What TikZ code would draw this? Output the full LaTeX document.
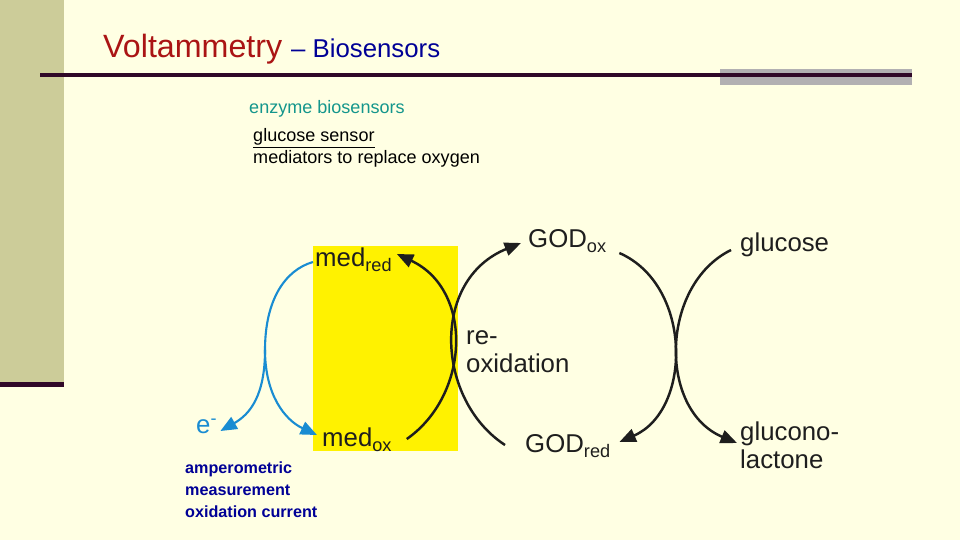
\documentclass[tikz,border=0pt]{standalone}
\usepackage{fontspec}
\setmainfont{Liberation Sans}
\usepackage{tikz}
\usetikzlibrary{positioning, arrows.meta, calc}
\definecolor{creamc}{RGB}{255,255,227}
\definecolor{olivec}{RGB}{204,204,153}
\definecolor{rulec}{RGB}{48,8,40}
\definecolor{greyc}{RGB}{178,176,178}
\definecolor{redc}{RGB}{170,20,20}
\definecolor{navyc}{RGB}{0,0,150}
\definecolor{tealc}{RGB}{20,150,140}
\definecolor{skyc}{RGB}{25,140,210}
\definecolor{inkc}{RGB}{30,30,30}
\newcommand{\chem}[2]{#1\raisebox{-0.2em}{\fontsize{15.5}{18}\selectfont #2}}

\begin{document}
\begin{tikzpicture}[x=0.03cm, y=-0.03cm,
  lbl/.style={anchor=base west, inner sep=0pt, font=\fontsize{22}{23.5}\selectfont, text=inkc, align=left},
  cyc/.style={inkc, line width=2.1pt, -{Triangle[length=14pt,width=11.5pt]}},
  ecyc/.style={skyc, line width=1.8pt, -{Triangle[length=14pt,width=11.5pt]}}]

% page: 960 x 540 px, 1px = 0.03cm, y downwards
\fill[creamc] (0,0) rectangle (960,540);
\useasboundingbox (0,0) rectangle (960,540);
\fill[olivec] (0,0) rectangle (64,383);
\fill[rulec] (0,382) rectangle (64,387);
\fill[greyc] (720,69) rectangle (912,85);
\draw[rulec, line width=2.6pt] (40,75) -- (912,75);

\node[anchor=base west, inner sep=0pt] (title) at (103,58)
  {\fontsize{27.5}{32}\selectfont\color{redc}Voltammetry\ \fontsize{22}{26}\selectfont\color{navyc}-- Biosensors};
\node[anchor=base west, inner sep=0pt, font=\fontsize{15.4}{18}\selectfont, text=tealc] (enz) at (249,114) {enzyme biosensors};
\node[anchor=base west, inner sep=0pt, font=\fontsize{15.4}{18}\selectfont] (gsens) at (253,142) {\underline{glucose sensor}};
\node[anchor=base west, inner sep=0pt, font=\fontsize{15.4}{18}\selectfont] (medtxt) at (253,164) {mediators to replace oxygen};

% electrode region
\fill[yellow] (313,246) rectangle (458,451);

% multi-line labels: base = last line
\node[lbl] (medred) at (315,266) {\chem{med}{red}};
\node[lbl] (medox) at (322,446) {\chem{med}{ox}};
\node[lbl] (godox) at (528,247) {\chem{GOD}{ox}};
\node[lbl] (godred) at (525,452) {\chem{GOD}{red}};
\node[lbl] (gluc) at (740,251) {glucose};
\node[lbl] (lact) at (740,468) {glucono-\\lactone};
\node[lbl] (reox) at (466,372) {re-\\oxidation};
\node[lbl, text=skyc] (elec) at (196,433) {e\textsuperscript{-}};
\node[anchor=base west, inner sep=0pt, align=left, text=navyc, font=\fontsize{13.8}{18.7}\selectfont\bfseries] (amp) at (185,517)
  {amperometric\\measurement\\oxidation current};

% mediator cycle
\draw[cyc] ($(medox.base east)+(15,-7)$) .. controls +(63,-44) and +(77,36) .. ($(medred.base east)+(5,-12)$);
% enzyme cycle
\draw[cyc] ($(godred.base west)+(-20,-7)$) .. controls +(-69,-45) and +(-91,37) .. ($(godox.base west)+(-7,-4)$);
\draw[cyc] ($(godox.base east)+(13,6)$) .. controls +(73,32) and +(73,-32) .. ($(godred.base east)+(9,-10)$);
\draw[cyc] ($(gluc.base west)+(-9,-1)$) .. controls +(-71,35) and +(-79,-33) .. ($(lact.base west)+(-3,-25)$);

% electrode current
\coordinate (split) at (265,350);
\draw[skyc, line width=1.8pt] ($(medred.base west)+(-2,-4)$) .. controls +(-28,8) and +(0,-50) .. (split);
\draw[ecyc] (split) .. controls +(0,45) and +(30,-17) .. ($(elec.base east)+(3,-2)$);
\draw[ecyc] (split) .. controls +(0,45) and +(-32,-15) .. ($(medox.base west)+(-5,-11)$);
\end{tikzpicture}
\end{document}
